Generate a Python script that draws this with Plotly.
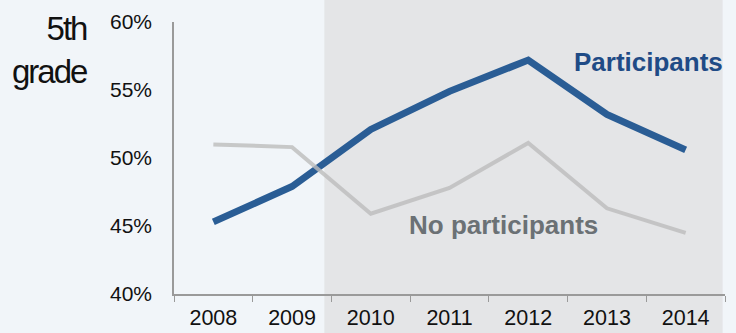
import plotly.graph_objects as go

years = ["2008", "2009", "2010", "2011", "2012", "2013", "2014"]
participants = [45.3, 47.9, 52.1, 54.9, 57.2, 53.2, 50.6]
no_participants = [51.0, 50.8, 45.9, 47.8, 51.1, 46.3, 44.5]
y_ticks = [40, 45, 50, 55, 60]
y_tick_labels = ["40%", "45%", "50%", "55%", "60%"]

fig = go.Figure()
fig.add_trace(go.Scatter(x=years, y=participants, mode="lines",
                         line=dict(color="#2A5D95", width=7), showlegend=False))
fig.add_trace(go.Scatter(x=years, y=no_participants, mode="lines",
                         line=dict(color="#BDBDBD", width=4), opacity=0.8, showlegend=False))

fig.add_shape(type="rect", xref="x", yref="paper", x0=1.41, x1=6.47, y0=-0.2, y1=1.1,
              fillcolor="#E4E5E7", line=dict(width=0), layer="below")

fig.add_annotation(x=5.53, y=57.05, text="<b>Participants</b>", showarrow=False,
                   font=dict(family="Liberation Sans, Arial", size=26, color="#1F4B86"))
fig.add_annotation(x=3.68, y=45.1, text="<b>No participants</b>", showarrow=False,
                   font=dict(family="Liberation Sans, Arial", size=26, color="#6B7175"))
fig.add_annotation(xref="paper", yref="paper", x=-0.155, y=1.05, xanchor="right", yanchor="top",
                   text='<span style="letter-spacing:-2px">5th</span><br><span style="letter-spacing:-2px">grade</span>',
                   showarrow=False, align="right",
                   font=dict(family="Liberation Sans, Arial", size=33, color="#111111"))

fig.update_layout(
    width=736, height=333,
    margin=dict(l=174, r=11, t=22, b=39, autoexpand=False),
    paper_bgcolor="#F1F5F9", plot_bgcolor="rgba(0,0,0,0)",
    font=dict(family="Liberation Sans, Arial", size=21, color="#111111"),
    xaxis=dict(type="category", range=[-0.5, 6.5], showline=True, linecolor="#9A9A9A", linewidth=1.5,
               ticks="outside", tickson="boundaries", ticklen=6, tickcolor="#9A9A9A", automargin=False,
               showgrid=False, zeroline=False, tickfont=dict(size=21.5), ticklabelstandoff=3),
    yaxis=dict(range=[40, 60], tickvals=y_ticks, ticktext=y_tick_labels, showline=True, automargin=False,
               linecolor="#9A9A9A", linewidth=1.5, showgrid=False, zeroline=False,
               ticks="", ticklabelstandoff=16, tickfont=dict(size=21)),
)
fig.write_html("out.html")
